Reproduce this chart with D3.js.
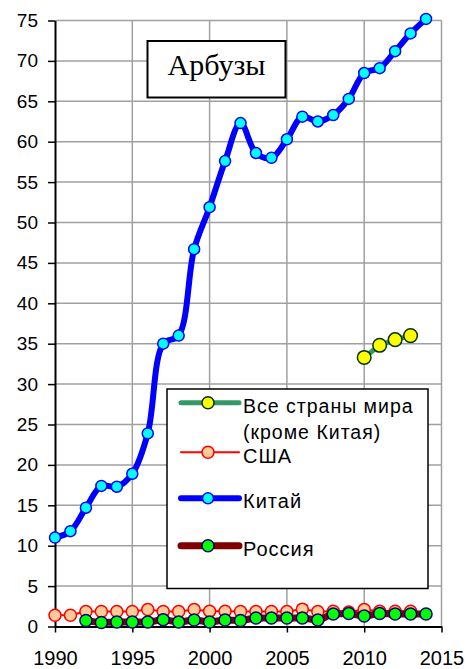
<!DOCTYPE html>
<html><head><meta charset="utf-8">
<script src="https://cdn.jsdelivr.net/npm/d3@7"></script>
<style>body{margin:0;background:#fff}svg{display:block}</style>
</head><body>
<svg id="c" width="470" height="669"></svg>
<script>
const title = "Арбузы";
const xTicks = [1990, 1995, 2000, 2005, 2010, 2015];
const yTicks = [0,5,10,15,20,25,30,35,40,45,50,55,60,65,70,75];

const worldYears = [2010, 2011, 2012, 2013];
const worldValues = [33.3, 34.8, 35.5, 36.0];

const usaYears = [1990,1991,1992,1993,1994,1995,1996,1997,1998,1999,2000,2001,2002,2003,2004,2005,2006,2007,2008,2009,2010,2011,2012,2013];
const usaValues = [1.4,1.4,1.85,1.85,1.85,1.85,2.1,1.85,1.85,2.1,1.9,1.9,1.85,1.85,1.85,1.85,2.15,1.85,1.9,1.8,2.1,1.9,1.9,1.9];

const chinaYears = [1990,1991,1992,1993,1994,1995,1996,1997,1998,1999,2000,2001,2002,2003,2004,2005,2006,2007,2008,2009,2010,2011,2012,2013,2014];
const chinaValues = [11.0,11.8,14.7,17.4,17.3,18.9,23.9,35.0,36.0,46.7,51.9,57.6,62.3,58.6,58.0,60.3,63.1,62.5,63.3,65.3,68.5,69.1,71.2,73.4,75.2];

const russiaYears = [1992,1993,1994,1995,1996,1997,1998,1999,2000,2001,2002,2003,2004,2005,2006,2007,2008,2009,2010,2011,2012,2013,2014];
const russiaValues = [0.75,0.5,0.55,0.55,0.55,0.85,0.55,0.8,0.55,0.8,0.75,1.05,1.05,1.05,1.05,0.8,1.55,1.6,1.3,1.6,1.55,1.55,1.55];

const legendLabels = [["Все страны мира","(кроме Китая)"],["США"],["Китай"],["Россия"]];

const svg = d3.select("#c");
const x = d3.scaleLinear().domain([1990, 2015]).range([55, 441.5]);
const y = d3.scaleLinear().domain([0, 75]).range([626.5, 20.5]);

// grid
const g = svg.append("g");
g.selectAll(".hg").data(yTicks.filter(d => d > 0)).join("line")
  .attr("x1", x(1990)).attr("x2", x(2015)).attr("y1", d => y(d)).attr("y2", d => y(d))
  .attr("stroke", "#a0a0a0").attr("stroke-width", 1.5);
g.selectAll(".vg").data(xTicks.filter(d => d > 1990)).join("line")
  .attr("x1", d => x(d)).attr("x2", d => x(d)).attr("y1", y(0)).attr("y2", y(75))
  .attr("stroke", "#a0a0a0").attr("stroke-width", 1.5);

// axes
const ya = svg.append("g").attr("transform", `translate(${x(1990)},0)`)
  .call(d3.axisLeft(y).tickValues(yTicks).tickSize(7).tickPadding(10).tickSizeOuter(0));
ya.select(".domain").attr("stroke", "#000").attr("stroke-width", 2);
ya.selectAll(".tick line").attr("stroke", "#000").attr("stroke-width", 1.5);
ya.selectAll("text").attr("font-family", "Arial, 'Liberation Sans', sans-serif").attr("font-size", 19).attr("fill", "#000");

const xa = svg.append("g").attr("transform", `translate(0,${y(0)})`)
  .call(d3.axisBottom(x).tickValues(xTicks).tickFormat(d3.format("d")).tickSize(6).tickPadding(18).tickSizeOuter(0));
xa.select(".domain").attr("stroke", "#000").attr("stroke-width", 2);
xa.selectAll(".tick line").attr("stroke", "#000").attr("stroke-width", 1.5);
xa.selectAll("text").attr("font-family", "Arial, 'Liberation Sans', sans-serif").attr("font-size", 20).attr("fill", "#000");

// title box
svg.append("rect").attr("x", 147.5).attr("y", 41).attr("width", 138).attr("height", 56.5)
  .attr("fill", "#fff").attr("stroke", "#000").attr("stroke-width", 2);
svg.append("text").attr("x", 216.5).attr("y", 75).attr("text-anchor", "middle")
  .attr("font-family", "'Times New Roman', 'Liberation Serif', serif").attr("font-size", 30).text(title);

// series
function series(years, values, opts) {
  const data = years.map((yr, i) => [yr, values[i]]);
  const line = d3.line().x(d => x(d[0])).y(d => y(d[1])).curve(opts.curve || d3.curveLinear);
  svg.append("path").datum(data).attr("d", line).attr("fill", "none")
    .attr("stroke", opts.line).attr("stroke-width", opts.lw).attr("stroke-linejoin", "round").attr("stroke-linecap", "round");
  svg.append("g").selectAll("circle").data(data).join("circle")
    .attr("cx", d => x(d[0])).attr("cy", d => y(d[1])).attr("r", opts.r)
    .attr("fill", opts.fill).attr("stroke", opts.stroke).attr("stroke-width", opts.sw);
}
const styles = {
  world: {line: "#339966", lw: 5, fill: "#ffff00", stroke: "#003300", r: 6.8, sw: 1.5},
  usa: {line: "#ff0000", lw: 2, fill: "#ffcc99", stroke: "#ff0000", r: 6, sw: 1.5},
  china: {line: "#0000ff", lw: 6, fill: "#00ffff", stroke: "#0000ff", r: 5.5, sw: 1.5, curve: d3.curveCatmullRom},
  russia: {line: "#800000", lw: 7, fill: "#00ff00", stroke: "#000080", r: 6, sw: 1.5, curve: d3.curveMonotoneX}
};
series(chinaYears, chinaValues, styles.china);
series(usaYears, usaValues, styles.usa);
series(russiaYears, russiaValues, styles.russia);
series(worldYears, worldValues, styles.world);

// legend
const lg = svg.append("g");
lg.append("rect").attr("x", 167).attr("y", 389).attr("width", 261).attr("height", 199.5)
  .attr("fill", "#fff").attr("stroke", "#000").attr("stroke-width", 1.5);
const legendStyles = [styles.world, styles.usa, styles.china, styles.russia];
const legendLineY = [402.7, 452.3, 498.3, 545.7];
const legendTextY = [[413, 439], [462.5], [508.3], [555.7]];
legendStyles.forEach((s, i) => {
  lg.append("line").attr("x1", 181).attr("x2", 239).attr("y1", legendLineY[i]).attr("y2", legendLineY[i])
    .attr("stroke", s.line).attr("stroke-width", s.lw).attr("stroke-linecap", "round");
  lg.append("circle").attr("cx", 208).attr("cy", legendLineY[i]).attr("r", Math.min(s.r, 6))
    .attr("fill", s.fill).attr("stroke", s.stroke).attr("stroke-width", s.sw);
  legendLabels[i].forEach((t, j) => {
    lg.append("text").attr("x", 243).attr("y", legendTextY[i][j])
      .attr("font-family", "Arial, 'Liberation Sans', sans-serif").attr("font-size", i === 0 ? 19.5 : 20)
      .attr("letter-spacing", 1).text(t);
  });
});
</script>
</body></html>
